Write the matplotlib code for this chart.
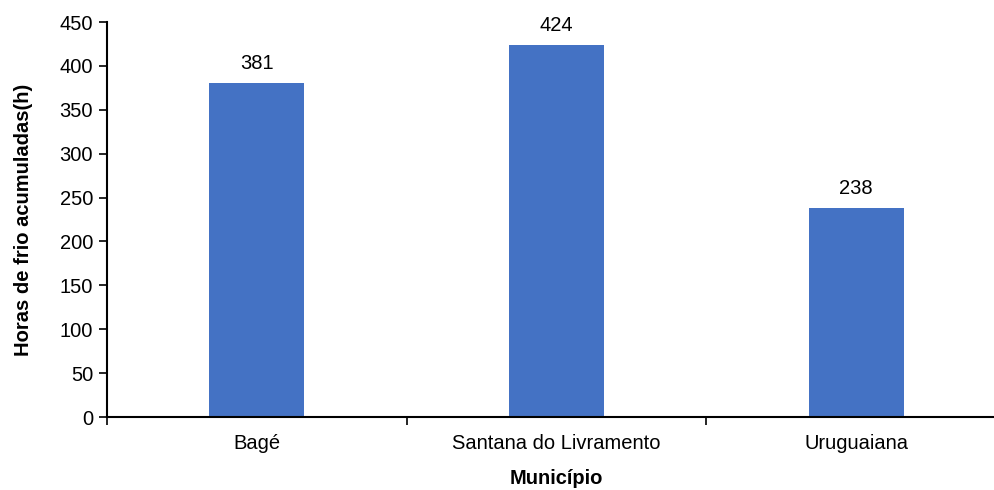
import matplotlib
matplotlib.use("Agg")
import matplotlib.pyplot as plt
import numpy as np

plt.rcParams['font.family'] = ['Liberation Sans', 'DejaVu Sans']

municipios = ['Bagé', 'Santana do Livramento', 'Uruguaiana']
horas = [381, 424, 238]

fig = plt.figure(figsize=(9.95, 4.9), dpi=100)
ax = fig.add_axes([107/995, 73/490, 899/995, 395/490])

x = np.arange(len(municipios))
bars = ax.bar(x, horas, width=0.317, color='#4472C4')
for xi, h in zip(x, horas):
    ax.annotate(str(h), (xi, h), xytext=(0, 7), textcoords='offset points',
                ha='center', va='bottom', fontsize=14.5)

ax.set_xlim(-0.5, 2.5)
ax.set_ylim(0, 450)
ax.set_yticks(np.arange(0, 451, 50))
ax.tick_params(axis='y', direction='out', length=6, width=1.2, labelsize=14.5, pad=4)

# category boundaries as major ticks, names on minor ticks
ax.set_xticks([-0.5, 0.5, 1.5, 2.5])
ax.set_xticklabels([])
ax.set_xticks(x, minor=True)
ax.set_xticklabels(municipios, minor=True)
ax.tick_params(axis='x', which='major', direction='out', length=6, width=1.2)
ax.tick_params(axis='x', which='minor', length=0, labelsize=14.5, pad=12)

ax.spines['top'].set_visible(False)
ax.spines['right'].set_visible(False)
ax.spines['left'].set_linewidth(1.5)
ax.spines['bottom'].set_linewidth(1.5)

ax.set_ylabel('Horas de frio acumuladas(h)', fontsize=14.5, fontweight='bold', labelpad=19)
ax.set_xlabel('Município', fontsize=14.5, fontweight='bold', labelpad=12)

fig.savefig('out.png', dpi=100)
